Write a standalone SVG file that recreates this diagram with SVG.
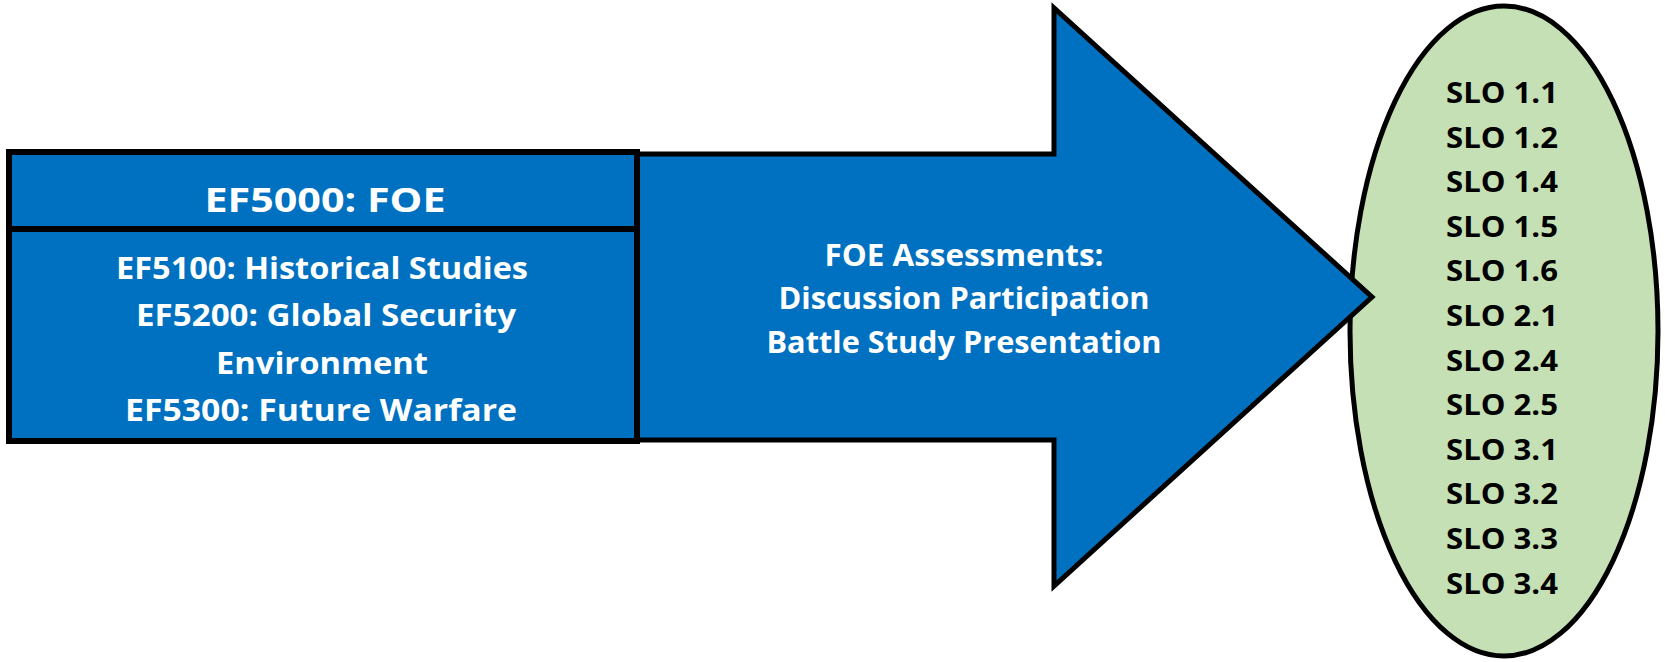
<svg xmlns="http://www.w3.org/2000/svg" width="1665" height="662" viewBox="0 0 1665 662">
<style>
.w{fill:#ffffff;font-family:"Open Sans","Liberation Sans",sans-serif;font-weight:bold;text-anchor:middle}
.k{fill:#000000;font-family:"Open Sans","Liberation Sans",sans-serif;font-weight:bold;text-anchor:middle;font-size:29px}
.ln{stroke:#000;stroke-width:6}
</style>
<rect width="1665" height="662" fill="#ffffff"/>
<g id="slo-ellipse">
<ellipse cx="1504" cy="331" rx="154" ry="325" fill="#C5E0B4" stroke="#000" stroke-width="5"/>
<text class="k" x="1502" y="103" textLength="112" lengthAdjust="spacingAndGlyphs">SLO 1.1</text>
<text class="k" x="1502" y="147.6" textLength="112" lengthAdjust="spacingAndGlyphs">SLO 1.2</text>
<text class="k" x="1502" y="192.2" textLength="112" lengthAdjust="spacingAndGlyphs">SLO 1.4</text>
<text class="k" x="1502" y="236.8" textLength="112" lengthAdjust="spacingAndGlyphs">SLO 1.5</text>
<text class="k" x="1502" y="281.4" textLength="112" lengthAdjust="spacingAndGlyphs">SLO 1.6</text>
<text class="k" x="1502" y="326" textLength="112" lengthAdjust="spacingAndGlyphs">SLO 2.1</text>
<text class="k" x="1502" y="370.6" textLength="112" lengthAdjust="spacingAndGlyphs">SLO 2.4</text>
<text class="k" x="1502" y="415.2" textLength="112" lengthAdjust="spacingAndGlyphs">SLO 2.5</text>
<text class="k" x="1502" y="459.8" textLength="112" lengthAdjust="spacingAndGlyphs">SLO 3.1</text>
<text class="k" x="1502" y="504.4" textLength="112" lengthAdjust="spacingAndGlyphs">SLO 3.2</text>
<text class="k" x="1502" y="549" textLength="112" lengthAdjust="spacingAndGlyphs">SLO 3.3</text>
<text class="k" x="1502" y="593.6" textLength="112" lengthAdjust="spacingAndGlyphs">SLO 3.4</text>
</g>
<g id="assessment-arrow">
<polygon points="637,154 1054,154 1054,8 1372,297 1054,586 1054,440 637,440" fill="#0070C0" stroke="#000" stroke-width="5" stroke-linejoin="miter"/>
<text class="w" x="964" y="266" font-size="30" textLength="279" lengthAdjust="spacingAndGlyphs">FOE Assessments:</text>
<text class="w" x="964" y="309" font-size="30" textLength="371" lengthAdjust="spacingAndGlyphs">Discussion Participation</text>
<text class="w" x="964" y="353" font-size="30" textLength="395" lengthAdjust="spacingAndGlyphs">Battle Study Presentation</text>
</g>
<g id="foe-box">
<rect x="9" y="152" width="628" height="289" fill="#0070C0" class="ln"/>
<line x1="9" y1="229" x2="637" y2="229" class="ln"/>
<text class="w" x="325" y="212" font-size="34" textLength="241" lengthAdjust="spacingAndGlyphs">EF5000: FOE</text>
<text class="w" x="322" y="279" font-size="30" textLength="412" lengthAdjust="spacingAndGlyphs">EF5100:  Historical Studies</text>
<text class="w" x="326" y="326" font-size="30" textLength="380" lengthAdjust="spacingAndGlyphs">EF5200: Global Security</text>
<text class="w" x="322" y="374" font-size="30" textLength="212" lengthAdjust="spacingAndGlyphs">Environment</text>
<text class="w" x="321" y="421" font-size="30" textLength="392" lengthAdjust="spacingAndGlyphs">EF5300: Future Warfare</text>
</g>
<g id="connectors"/>
</svg>
